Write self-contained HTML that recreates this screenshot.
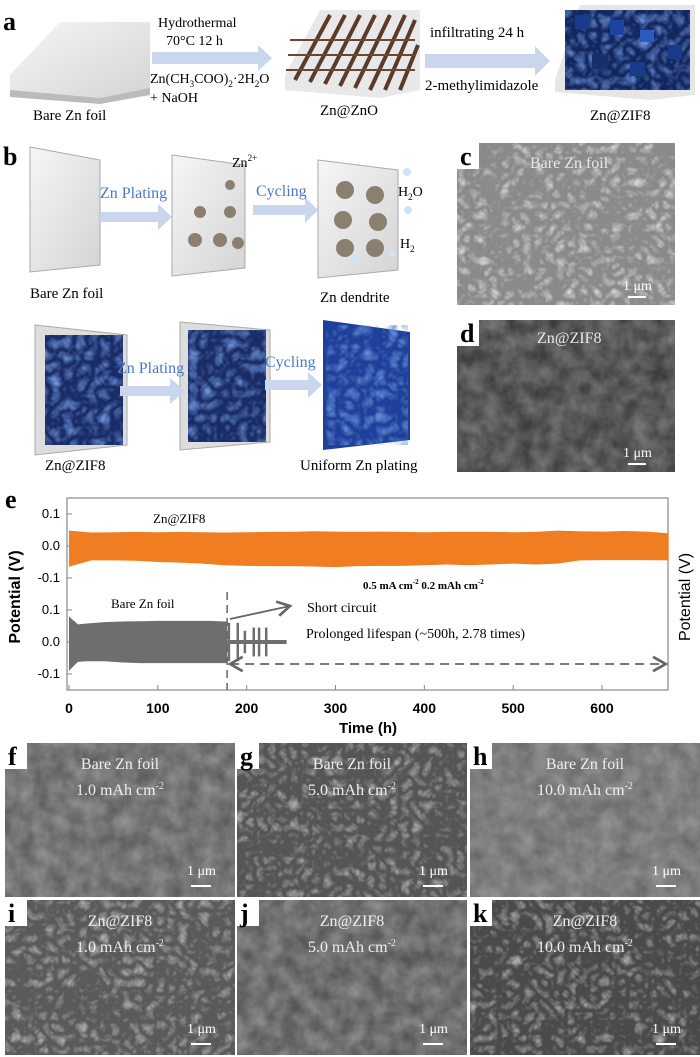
<!DOCTYPE html>
<html><head><meta charset="utf-8"><style>
html,body{margin:0;padding:0;background:#fff;}
svg{display:block;font-family:"Liberation Serif",serif;}
.lbl{font-family:"Liberation Serif",serif;font-weight:bold;font-size:26px;}
</style></head><body>
<svg id="fig" width="700" height="1057" viewBox="0 0 700 1057">
<defs>
<filter id="sem1" x="0" y="0" width="100%" height="100%"><feTurbulence type="fractalNoise" baseFrequency="0.06" numOctaves="3" seed="3"/><feColorMatrix type="matrix" values="0 0 0 0 0.45  0 0 0 0 0.45  0 0 0 0 0.45  1.2 0 0 0 -0.2"/><feComposite in2="SourceGraphic" operator="in"/></filter>
<filter id="sem2" x="0" y="0" width="100%" height="100%"><feTurbulence type="turbulence" baseFrequency="0.09" numOctaves="2" seed="7"/><feColorMatrix type="matrix" values="0 0 0 0 0.7  0 0 0 0 0.7  0 0 0 0 0.7  1.6 0 0 0 -0.3"/><feComposite in2="SourceGraphic" operator="in"/></filter>
<filter id="blue" x="0" y="0" width="100%" height="100%"><feTurbulence type="turbulence" baseFrequency="0.08" numOctaves="2" seed="2"/><feColorMatrix type="matrix" values="0 0 0 0 0.15  0 0 0 0 0.3  0 0 0 0 0.7  1.5 0 0 0 -0.2"/><feComposite in2="SourceGraphic" operator="in"/></filter>
<linearGradient id="foil" x1="0" y1="0" x2="1" y2="1"><stop offset="0" stop-color="#f6f6f6"/><stop offset="1" stop-color="#d4d4d4"/></linearGradient>
<marker id="ah" markerWidth="10" markerHeight="10" refX="8" refY="5" orient="auto"><path d="M1,1 L8,5 L1,9" fill="none" stroke="#666" stroke-width="1.5"/></marker>
<marker id="ahs" markerWidth="10" markerHeight="10" refX="2" refY="5" orient="auto"><path d="M9,1 L2,5 L9,9" fill="none" stroke="#666" stroke-width="1.5"/></marker>
</defs>

<!-- Panel a -->
<g>
<text class="lbl" x="3" y="30">a</text>
<polygon points="10,75 60,22 150,22 150,90 100,100 10,95" fill="url(#foil)"/>
<polygon points="10,90 100,98 150,88 150,95 100,104 10,97" fill="#bbb"/>
<polygon points="152,52 258,52 258,45 272,58 258,71 258,64 152,64" fill="#c9d6ee"/>
<text x="158" y="27" font-size="14">Hydrothermal</text>
<text x="166" y="45" font-size="14">70°C  12 h</text>
<text x="150" y="83" font-size="14">Zn(CH<tspan font-size="9" dy="4">3</tspan><tspan dy="-4">COO)</tspan><tspan font-size="9" dy="4">2</tspan><tspan dy="-4">·2H</tspan><tspan font-size="9" dy="4">2</tspan><tspan dy="-4">O</tspan></text>
<text x="150" y="102" font-size="14">+ NaOH</text>
<text x="33" y="120" font-size="15">Bare  Zn foil</text>
<g>
<polygon points="285,75 320,10 420,10 420,90 380,98 285,90" fill="#e8e8e8"/>
<g stroke="#5a3a28" stroke-width="4">
<line x1="295" y1="80" x2="330" y2="15"/><line x1="310" y1="82" x2="345" y2="15"/><line x1="325" y1="84" x2="360" y2="15"/><line x1="340" y1="86" x2="375" y2="15"/><line x1="355" y1="88" x2="390" y2="15"/><line x1="370" y1="90" x2="405" y2="15"/><line x1="385" y1="90" x2="415" y2="20"/><line x1="400" y1="90" x2="418" y2="45"/>
</g>
<g stroke="#6b4632" stroke-width="2"><line x1="290" y1="40" x2="415" y2="40"/><line x1="288" y1="55" x2="415" y2="55"/><line x1="286" y1="70" x2="415" y2="70"/></g>
</g>
<text x="320" y="115" font-size="15">Zn@ZnO</text>
<polygon points="425,54 535,54 535,46 550,61 535,76 535,68 425,68" fill="#c9d6ee"/>
<text x="430" y="37" font-size="15">infiltrating  24 h</text>
<text x="425" y="90" font-size="15">2-methylimidazole</text>
<g>
<polygon points="555,80 580,5 695,5 695,95 650,100 555,92" fill="#e6e6e6"/>
<rect x="565" y="10" width="125" height="80" fill="#13265e"/>
<rect x="565" y="10" width="125" height="80" fill="#123" filter="url(#blue)"/>
<rect x="575" y="15" width="15" height="14" fill="#1a3a8a"/><rect x="610" y="20" width="14" height="15" fill="#1b45a0"/><rect x="640" y="30" width="14" height="12" fill="#2a5cc0"/><rect x="668" y="45" width="14" height="14" fill="#1a3a8a"/><rect x="592" y="55" width="16" height="14" fill="#16306e"/><rect x="630" y="62" width="15" height="14" fill="#1a3a8a"/>
</g>
<text x="590" y="120" font-size="15">Zn@ZIF8</text>
</g>

<!-- Panel b -->
<g>
<text class="lbl" x="3" y="165">b</text>
<polygon points="30,147 100,160 100,265 30,272" fill="url(#foil)" stroke="#aaa"/>
<polygon points="172,155 245,165 245,268 172,276" fill="url(#foil)" stroke="#aaa"/>
<polygon points="318,160 398,170 398,270 318,278" fill="url(#foil)" stroke="#aaa"/>
<g fill="#8b8070"><circle cx="200" cy="212" r="6"/><circle cx="230" cy="212" r="6"/><circle cx="195" cy="240" r="7"/><circle cx="220" cy="240" r="7"/><circle cx="238" cy="243" r="6"/><circle cx="230" cy="185" r="5"/>
<circle cx="345" cy="190" r="9"/><circle cx="375" cy="195" r="9"/><circle cx="343" cy="220" r="9"/><circle cx="378" cy="222" r="9"/><circle cx="345" cy="248" r="9"/><circle cx="375" cy="248" r="9"/></g>
<g fill="#cfe2f7"><circle cx="407" cy="172" r="4"/><circle cx="408" cy="210" r="4"/><circle cx="355" cy="258" r="4"/><circle cx="392" cy="254" r="3"/></g>
<polygon points="100,212 158,212 158,204 172,217 158,230 158,222 100,222" fill="#c9d6ee"/>
<polygon points="253,205 305,205 305,197 318,210 305,223 305,215 253,215" fill="#c9d6ee"/>
<text x="100" y="198" font-size="16" fill="#4a78c8">Zn Plating</text>
<text x="256" y="196" font-size="16" fill="#4a78c8">Cycling</text>
<text x="232" y="167" font-size="14">Zn<tspan font-size="9" dy="-6">2+</tspan></text>
<text x="398" y="196" font-size="14">H<tspan font-size="9" dy="4">2</tspan><tspan dy="-4">O</tspan></text>
<text x="400" y="248" font-size="14">H<tspan font-size="9" dy="4">2</tspan></text>
<text x="30" y="298" font-size="15">Bare Zn foil</text>
<text x="320" y="302" font-size="15">Zn dendrite</text>
<polygon points="35,325 127,335 127,445 35,455" fill="#ddd" stroke="#aaa"/>
<rect x="45" y="335" width="78" height="110" fill="#1a2c66"/>
<rect x="45" y="335" width="78" height="110" fill="#0d1a40" filter="url(#blue)"/>
<polygon points="180,322 270,330 270,442 180,450" fill="#ddd" stroke="#aaa"/>
<rect x="188" y="330" width="78" height="112" fill="#1a2c66"/>
<rect x="188" y="330" width="78" height="112" fill="#0d1a40" filter="url(#blue)"/>
<polygon points="323,320 410,332 410,440 323,450" fill="#1e3f9a"/>
<rect x="326" y="325" width="82" height="120" fill="#1e3f9a" filter="url(#blue)"/>
<polygon points="120,386 170,386 170,378 185,391 170,404 170,396 120,396" fill="#c9d6ee"/>
<polygon points="265,380 308,380 308,372 322,385 308,398 308,390 265,390" fill="#c9d6ee"/>
<text x="117" y="373" font-size="16" fill="#4a78c8">Zn Plating</text>
<text x="265" y="367" font-size="16" fill="#4a78c8">Cycling</text>
<text x="45" y="470" font-size="15">Zn@ZIF8</text>
<text x="300" y="470" font-size="15">Uniform Zn plating</text>
</g>

<!-- Panel c, d SEM -->
<g>
<rect x="457" y="143" width="218" height="162" fill="#8a8a8a"/>
<rect x="457" y="143" width="218" height="162" fill="#888" filter="url(#sem2)"/>
<rect x="457" y="143" width="22" height="26" fill="#fff"/>
<text class="lbl" x="460" y="165">c</text>
<text x="530" y="168" font-size="16" fill="#e8e8e8">Bare Zn foil</text>
<text x="623" y="290" font-size="14" fill="#fff">1 μm</text>
<rect x="628" y="296" width="18" height="2" fill="#fff"/>
</g>
<g>
<rect x="457" y="320" width="218" height="152" fill="#3c3c3c"/>
<rect x="457" y="320" width="218" height="152" fill="#555" filter="url(#sem1)" opacity="0.6"/>
<rect x="457" y="320" width="22" height="26" fill="#fff"/>
<text class="lbl" x="460" y="342">d</text>
<text x="537" y="343" font-size="16" fill="#e8e8e8">Zn@ZIF8</text>
<text x="623" y="457" font-size="14" fill="#fff">1 μm</text>
<rect x="628" y="463" width="18" height="2" fill="#fff"/>
</g>

<!-- Panel e chart -->
<g id="chart">
<text class="lbl" x="5" y="508">e</text>
<rect x="67" y="498" width="601" height="192" fill="none" stroke="#888" stroke-width="1.2"/>
<g id="marks"></g>
<text x="153" y="523" font-size="13">Zn@ZIF8</text>
<text x="111" y="608" font-size="13">Bare Zn foil</text>
<text x="363" y="589" font-size="11" font-weight="bold">0.5 mA cm<tspan font-size="7" dy="-5">-2</tspan><tspan dy="5">  0.2 mAh cm</tspan><tspan font-size="7" dy="-5">-2</tspan></text>
<line x1="230" y1="619" x2="290" y2="606" stroke="#666" stroke-width="1.8" marker-end="url(#ah)"/>
<text x="307" y="612" font-size="14">Short circuit</text>
<text x="306" y="638" font-size="14">Prolonged lifespan  (~500h, 2.78 times)</text>
<text transform="translate(20,597) rotate(-90)" text-anchor="middle" font-family="Liberation Sans, sans-serif" font-weight="bold" font-size="16">Potential (V)</text>
<text transform="translate(690,597) rotate(-90)" text-anchor="middle" font-family="Liberation Sans, sans-serif" font-size="16">Potential (V)</text>
<text x="368" y="733" text-anchor="middle" font-family="Liberation Sans, sans-serif" font-weight="bold" font-size="15">Time (h)</text>
</g>

<!-- Bottom SEM panels -->
<g id="sems"></g>
</svg>
<script>
const xTicks=[0,100,200,300,400,500,600];
const yTicks=[0.1,0.0,-0.1];
const zifTimes=[0,25,50,75,100,125,150,175,200,225,250,275,300,325,350,375,400,425,450,475,500,525,550,575,600,625,650,675];
const zifUpper=[0.048,0.042,0.043,0.044,0.043,0.044,0.043,0.042,0.043,0.044,0.044,0.046,0.045,0.044,0.045,0.044,0.043,0.044,0.044,0.044,0.043,0.044,0.048,0.046,0.045,0.047,0.045,0.040];
const zifLower=[-0.065,-0.045,-0.045,-0.046,-0.050,-0.052,-0.055,-0.060,-0.062,-0.063,-0.063,-0.064,-0.066,-0.063,-0.062,-0.062,-0.060,-0.058,-0.060,-0.058,-0.055,-0.058,-0.055,-0.045,-0.044,-0.044,-0.044,-0.045];
const bareTimes=[0,10,20,40,60,80,100,120,140,160,175,178];
const bareUpper=[0.08,0.055,0.058,0.062,0.064,0.065,0.066,0.066,0.066,0.066,0.064,0.064];
const bareLower=[-0.09,-0.062,-0.060,-0.060,-0.064,-0.066,-0.066,-0.066,-0.066,-0.066,-0.066,-0.066];
const spikeTimes=[180,190,198,208,214,222];
const spikeAmp=[0.06,0.06,0.035,0.045,0.045,0.045];
const shortTime=178, flatEnd=245, lifeEnd=675;

const X0=69, PX=0.8883;
const xs=t=>X0+t*PX;
const yTop=v=>546-v*320, yBot=v=>642-v*320;
const NS='http://www.w3.org/2000/svg';
const marks=document.getElementById('marks');
function mk(tag,attrs,parent){const e=document.createElementNS(NS,tag);for(const k in attrs)e.setAttribute(k,attrs[k]);(parent||marks).appendChild(e);return e;}
xTicks.forEach(t=>{
 const l=mk('line',{x1:xs(t),x2:xs(t),y1:690,y2:685,stroke:'#888'});
 
 
 const tx=mk('text',{x:xs(t),y:713,'text-anchor':'middle','font-family':'Liberation Sans, sans-serif','font-weight':'bold','font-size':'14'});
 tx.textContent=t;
 
 
});
[yTop,yBot].forEach(f=>yTicks.forEach(v=>{
 const l=mk('line',{x1:67,x2:72,y1:f(v),y2:f(v),stroke:'#888'});
 
 
 const tx=mk('text',{x:60,y:f(v)+4,'text-anchor':'end','font-family':'Liberation Sans, sans-serif','font-size':'13'});
 tx.textContent=v.toFixed(1);
 
 
}));
let pts=zifTimes.map((t,i)=>xs(t)+','+yTop(zifUpper[i]));
pts=pts.concat(zifTimes.map((t,i)=>xs(t)+','+yTop(zifLower[i])).reverse());
const ob=mk('polygon',{points:pts.join(' '),fill:'#f07d22'});


let gp=bareTimes.map((t,i)=>xs(t)+','+yBot(bareUpper[i]));
gp=gp.concat(bareTimes.map((t,i)=>xs(t)+','+yBot(bareLower[i])).reverse());
const gb=mk('polygon',{points:gp.join(' '),fill:'#6e6e6e'});


const fl=mk('line',{x1:xs(shortTime),x2:xs(flatEnd),y1:yBot(0),y2:yBot(0),stroke:'#6e6e6e','stroke-width':4});


spikeTimes.forEach((t,i)=>{
 const s=mk('line',{x1:xs(t),x2:xs(t),y1:yBot(spikeAmp[i]),y2:yBot(-spikeAmp[i]),stroke:'#6e6e6e','stroke-width':2.5});
 
 
});
const dv=mk('line',{x1:xs(shortTime),x2:xs(shortTime),y1:592,y2:690,stroke:'#666','stroke-width':1.5,'stroke-dasharray':'8,5'});


const da=mk('line',{x1:xs(shortTime)+3,x2:xs(lifeEnd)-3,y1:664,y2:664,stroke:'#666','stroke-width':1.8,'stroke-dasharray':'9,6','marker-end':'url(#ah)','marker-start':'url(#ahs)'});



const semLetters=['f','g','h','i','j','k'];
const semTitles=['Bare Zn foil','Bare Zn foil','Bare Zn foil','Zn@ZIF8','Zn@ZIF8','Zn@ZIF8'];
const semCaps=['1.0 mAh cm','5.0 mAh cm','10.0 mAh cm','1.0 mAh cm','5.0 mAh cm','10.0 mAh cm'];
const semBase=['#5e5e5e','#555555','#6a6a6a','#5a5a5a','#555555','#4a4a4a'];
const sems=document.getElementById('sems');
const cols=[[5,230],[237,230],[470,230]], rows=[[743,154],[900,155]];
semLetters.forEach((L,i)=>{
 const c=cols[i%3], r=rows[Math.floor(i/3)];
 const g=mk('g',{},sems);
 
 
 mk('rect',{x:c[0],y:r[0],width:c[1],height:r[1],fill:semBase[i]},g);
 mk('rect',{x:c[0],y:r[0],width:c[1],height:r[1],fill:'#888',filter:i%2?'url(#sem2)':'url(#sem1)',opacity:0.7},g);
 mk('rect',{x:c[0],y:r[0],width:22,height:26,fill:'#fff'},g);
 const lt=mk('text',{x:c[0]+3,y:r[0]+22,class:'lbl'},g);lt.textContent=L;
 const t1=mk('text',{x:c[0]+c[1]/2,y:r[0]+26,'text-anchor':'middle','font-size':'16',fill:'#eee'},g);t1.textContent=semTitles[i];
 const t2=mk('text',{x:c[0]+c[1]/2,y:r[0]+52,'text-anchor':'middle','font-size':'16',fill:'#eee'},g);t2.textContent=semCaps[i];
 const sup=mk('tspan',{'font-size':'10',dy:'-6'},t2);sup.textContent='-2';
 const sb=mk('text',{x:c[0]+c[1]-48,y:r[0]+r[1]-22,'font-size':'14',fill:'#fff'},g);sb.textContent='1 μm';
 mk('rect',{x:c[0]+c[1]-44,y:r[0]+r[1]-12,width:20,height:2,fill:'#fff'},g);
});
</script>
</body></html>
